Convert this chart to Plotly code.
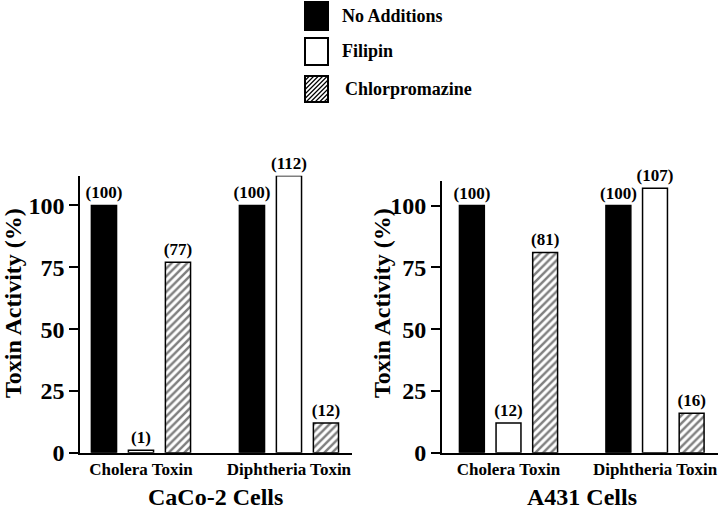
import plotly.graph_objects as go

# ---------------- data ----------------
toxins = ["Cholera Toxin", "Diphtheria Toxin"]
treatments = ["No Additions", "Filipin", "Chlorpromazine"]
caco2_no_additions = [100, 100]
caco2_filipin = [1, 112]
caco2_chlorpromazine = [77, 12]
a431_no_additions = [100, 100]
a431_filipin = [12, 107]
a431_chlorpromazine = [81, 16]
panel_titles = ["CaCo-2 Cells", "A431 Cells"]
y_ticks = [0, 25, 50, 75, 100]
y_title = "Toxin Activity (%)"

W, H = 720, 509
FONT = "Liberation Serif"


def px(x):
    return x / W


def py(y):
    return 1 - y / H


styles = {
    "No Additions": dict(color="black", line=dict(color="black", width=1.5)),
    "Filipin": dict(color="white", line=dict(color="black", width=1.5)),
    "Chlorpromazine": dict(color="white", line=dict(color="black", width=1.5),
                           pattern=dict(shape="/", fgcolor="black", bgcolor="white",
                                        size=5.5, solidity=0.45)),
}

fig = go.Figure()
panels = [
    ("x", "y", [caco2_no_additions, caco2_filipin, caco2_chlorpromazine]),
    ("x2", "y2", [a431_no_additions, a431_filipin, a431_chlorpromazine]),
]
for xa, ya, series in panels:
    for name, vals in zip(treatments, series):
        fig.add_trace(go.Bar(
            x=toxins, y=vals, name=name, xaxis=xa, yaxis=ya,
            marker=styles[name], showlegend=False,
            text=[f"({v})" for v in vals], textposition="outside",
            constraintext="none",
            textfont=dict(family=FONT, size=17, color="black", weight="bold"),
            cliponaxis=False, offsetgroup=name,
        ))

y0 = 452.7
k = 2.472
axis_common = dict(showline=True, linecolor="black", linewidth=1.5, showgrid=False,
                   zeroline=False, automargin=False)
yax = dict(axis_common, tickvals=y_ticks, ticks="outside", ticklen=9, tickwidth=1.5,
           tickcolor="black",
           tickfont=dict(family=FONT, size=24, color="black", weight="bold"))
xax = dict(axis_common, ticks="", type="category", ticklabeloverflow="allow",
           tickfont=dict(family=FONT, size=17, color="black", weight="bold"))

fig.update_layout(
    width=W, height=H, margin=dict(l=0, r=0, t=0, b=0, autoexpand=False),
    plot_bgcolor="white", paper_bgcolor="white",
    barmode="group", bargap=0.25, bargroupgap=0.32,
    xaxis=dict(xax, domain=[px(80), px(352)], range=[-0.412, 1.426], anchor="y"),
    yaxis=dict(yax, domain=[py(y0), py(y0 - 112 * k)], range=[0, 112], anchor="x"),
    xaxis2=dict(xax, domain=[px(441.7), px(718)], range=[-0.456, 1.43], anchor="y2"),
    yaxis2=dict(yax, domain=[py(y0), py(y0 - 110 * k)], range=[0, 110], anchor="x2"),
)

ann = []
# y-axis titles
for xc in (13, 382):
    ann.append(dict(text=y_title, x=px(xc), y=py(303), xref="paper", yref="paper",
                    textangle=-90, showarrow=False, xanchor="center", yanchor="middle",
                    font=dict(family=FONT, size=24, color="black", weight="bold")))
# panel titles
for xc, t in zip((215, 582), panel_titles):
    ann.append(dict(text=t, x=px(xc), y=py(497), xref="paper", yref="paper",
                    showarrow=False, xanchor="center", yanchor="middle",
                    font=dict(family=FONT, size=24, color="black", weight="bold")))

# legend (drawn manually)
shapes = []
legend_rows = [(2, 30), (38, 65), (76, 102)]
bx0, bx1 = 305, 328
for (ty, by), name in zip(legend_rows, treatments):
    fill = "black" if name == "No Additions" else "white"
    shapes.append(dict(type="rect", xref="paper", yref="paper",
                       x0=px(bx0), x1=px(bx1), y0=py(by), y1=py(ty),
                       fillcolor=fill, line=dict(color="black", width=2)))
    if name == "Chlorpromazine":
        w, h, s = bx1 - bx0, by - ty, 4.5
        path = ""
        d = -h + s
        while d < w:
            u0, u1 = max(0, d), min(w, h + d)
            if u1 > u0:
                xa_, ya_ = bx0 + u0, by - (u0 - d)
                xb_, yb_ = bx0 + u1, by - (u1 - d)
                path += f"M{px(xa_)},{py(ya_)} L{px(xb_)},{py(yb_)} "
            d += s
        shapes.append(dict(type="path", xref="paper", yref="paper", path=path,
                           line=dict(color="black", width=1.2)))
    ann.append(dict(text=name, x=px(340 if name != "Chlorpromazine" else 343),
                    y=py((ty + by) / 2), xref="paper", yref="paper",
                    showarrow=False, xanchor="left", yanchor="middle",
                    font=dict(family=FONT, size=18, color="black", weight="bold")))

fig.update_layout(annotations=ann, shapes=shapes)
fig.write_html("out.html", config={"displayModeBar": False},
               post_script="document.body.style.margin='0';document.body.style.overflow='hidden';")
